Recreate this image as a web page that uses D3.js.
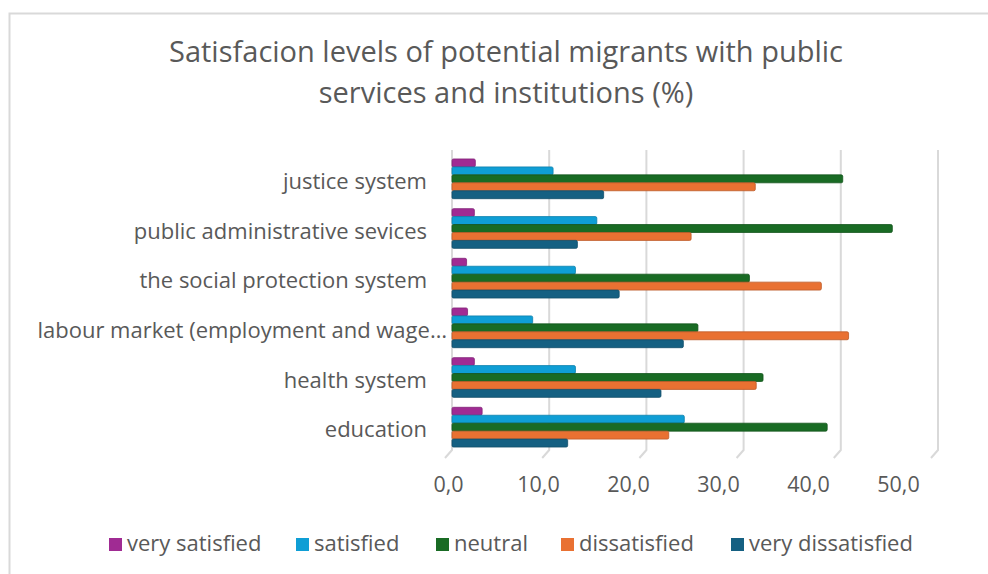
<!DOCTYPE html>
<html>
<head>
<meta charset="utf-8">
<script src="https://cdn.jsdelivr.net/npm/d3@7"></script>
<style>
  body { margin: 0; background: #fff; }
  text { font-family: "Open Sans", sans-serif; fill: #595959; }
</style>
</head>
<body>
<div id="chart"></div>
<script>
// data
const categories = ["justice system", "public administrative sevices", "the social protection system",
  "labour market (employment and wage…", "health system", "education"];
const series = ["very satisfied", "satisfied", "neutral", "dissatisfied", "very dissatisfied"];
const colors = ["#A02B93", "#0F9ED5", "#196B24", "#E97132", "#156082"];
const verySatisfied    = [2.4, 2.3, 1.5, 1.6, 2.3, 3.1];
const satisfied        = [10.4, 14.9, 12.7, 8.3, 12.7, 23.9];
const neutral          = [40.2, 45.3, 30.6, 25.3, 32.0, 38.6];
const dissatisfied     = [31.2, 24.6, 38.0, 40.8, 31.3, 22.3];
const veryDissatisfied = [15.6, 12.9, 17.2, 23.8, 21.5, 11.9];
const xTicks = [0, 10, 20, 30, 40, 50];

const values = [verySatisfied, satisfied, neutral, dissatisfied, veryDissatisfied];
const rows = categories.map((c, i) => ({
  cat: c,
  vals: series.map((s, j) => ({ key: s, value: values[j][i], color: colors[j] }))
}));

const width = 988, height = 574;

const svg = d3.select("#chart")
  .append("svg")
    .attr("width", width)
    .attr("height", height);

// chart frame
svg.append("rect")
  .attr("x", 9.5).attr("y", 13.5)
  .attr("width", 1000).attr("height", 600)
  .attr("fill", "none")
  .attr("stroke", "#d9d9d9")
  .attr("stroke-width", 2);

// title
const title = svg.append("text")
  .attr("text-anchor", "middle")
  .style("font-size", "29px");
title.append("tspan").attr("x", 506).attr("y", 62).text("Satisfacion levels of potential migrants with public");
title.append("tspan").attr("x", 506).attr("y", 103).text("services and institutions (%)");

// scales: bars sit on the back wall, labels on the front of the floor
const x = d3.scaleLinear().domain([0, 50]).range([452, 938]);
const xFront = d3.scaleLinear().domain([0, 50]).range([448, 898]);

const y0 = d3.scaleBand()
  .domain(categories)
  .range([154, 452])
  .paddingInner(0.2)
  .paddingOuter(0.1);

const y1 = d3.scaleBand()
  .domain(series)
  .range([0, y0.bandwidth()]);

// gridlines with a slanted floor tick
const grid = svg.append("g");
grid.selectAll("path")
  .data(xTicks)
  .join("path")
    .attr("d", d => `M${x(d)},150 L${x(d)},450 L${x(d) - 7},458`)
    .attr("fill", "none")
    .attr("stroke", "#d9d9d9")
    .attr("stroke-width", 2);

// x axis labels
svg.append("g")
  .attr("transform", "translate(0,474)")
  .call(d3.axisBottom(xFront).tickValues(xTicks).tickSize(0)
    .tickFormat(d => d3.format(".1f")(d).replace(".", ",")))
  .call(g => g.select(".domain").remove())
  .selectAll("text")
    .style("font-size", "21.5px")
    .attr("fill", "#595959");

// category labels
svg.append("g")
  .attr("transform", "translate(427,3)")
  .call(d3.axisLeft(y0).tickSize(0).tickPadding(0))
  .call(g => g.select(".domain").remove())
  .selectAll("text")
    .style("font-size", "22px")
    .attr("fill", "#595959")
    .attr("x", d => d.startsWith("labour") ? 20 : 0);

// bars
const groups = svg.append("g")
  .selectAll("g")
  .data(rows)
  .join("g")
    .attr("transform", d => `translate(0,${y0(d.cat)})`);

groups.selectAll("rect")
  .data(d => d.vals)
  .join("rect")
    .attr("x", x(0))
    .attr("y", d => y1(d.key))
    .attr("width", d => x(d.value) - x(0))
    .attr("height", y1.bandwidth())
    .attr("rx", 1.5)
    .attr("fill", d => d.color)
    .attr("stroke", d => d3.color(d.color).darker(0.6))
    .attr("stroke-width", 0.8);

// legend
const legendX = [109, 296, 436, 561, 731];
const legend = svg.append("g")
  .selectAll("g")
  .data(series)
  .join("g")
    .attr("transform", (d, i) => `translate(${legendX[i]},538)`);

legend.append("rect")
  .attr("width", 13).attr("height", 13)
  .attr("fill", (d, i) => colors[i]);

legend.append("text")
  .attr("x", 18).attr("y", 13)
  .style("font-size", "22px")
  .text(d => d);
</script>
</body>
</html>
